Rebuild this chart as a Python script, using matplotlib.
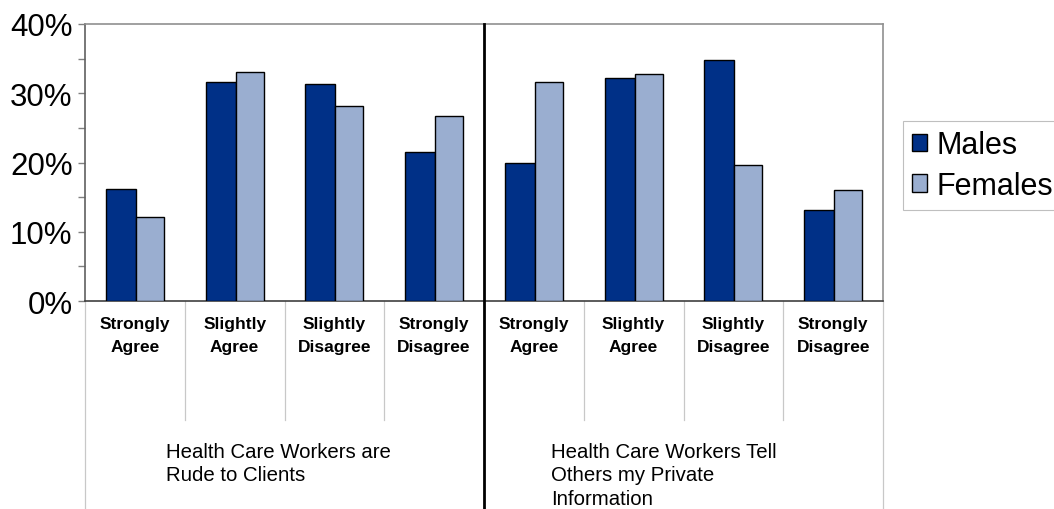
import numpy as np
import matplotlib.pyplot as plt
from matplotlib.transforms import blended_transform_factory
from matplotlib.patches import Patch

plt.rcParams['font.family'] = ['Liberation Sans', 'DejaVu Sans']

# Survey answers, two statements, four answer levels each
answers = ['Strongly\nAgree', 'Slightly\nAgree', 'Slightly\nDisagree', 'Strongly\nDisagree']
statements = ['Health Care Workers are\nRude to Clients',
              'Health Care Workers Tell\nOthers my Private\nInformation']

# Percent answering, statement 1 then statement 2
males = [16.2, 31.6, 31.4, 21.5, 20.0, 32.2, 34.8, 13.1]
females = [12.2, 33.1, 28.2, 26.7, 31.6, 32.8, 19.7, 16.0]

male_color = '#003087'
female_color = '#9aaed0'

fig = plt.figure(figsize=(10.54, 5.10), dpi=100)
ax = fig.add_axes([85/1054, 208/510, 798/1054, 277/510])

pos = np.arange(len(males))
ax.bar(pos + 0.21, males, width=0.30, align='edge', color=male_color,
       edgecolor='black', linewidth=1.0, zorder=3)
ax.bar(pos + 0.51, females, width=0.28, align='edge', color=female_color,
       edgecolor='black', linewidth=1.0, zorder=3)

ax.set_xlim(0, 8)
ax.set_ylim(0, 40)
ax.set_xticks([])
ax.set_yticks([0, 10, 20, 30, 40])
ax.set_yticklabels(['0%', '10%', '20%', '30%', '40%'], fontsize=22.5)
ax.set_yticks([5, 15, 25, 35], minor=True)
ax.tick_params(axis='y', which='both', length=5, width=1, color='#808080', pad=4)

for side in ['top', 'right']:
    ax.spines[side].set_color('#909090')
ax.spines['left'].set_color('#606060')
ax.spines['bottom'].set_color('#404040')
for s in ax.spines.values():
    s.set_linewidth(1.2)

trans = blended_transform_factory(ax.transData, ax.transAxes)

# category separators below the axis
for xs in [1, 2, 3, 5, 6, 7]:
    ax.plot([xs, xs], [0, -0.43], color='#c8c8c8', lw=0.9, transform=trans, clip_on=False)
for xs in [0, 8]:
    ax.plot([xs, xs], [0, -0.8], color='#c8c8c8', lw=0.9, transform=trans, clip_on=False)
# divider between the two statements
ax.plot([4, 4], [1, -0.8], color='black', lw=2, transform=trans, clip_on=False, zorder=5)

for i in range(len(males)):
    ax.text(i + 0.5, -0.123, answers[i % 4], transform=trans, ha='center', va='center',
            fontsize=12.5, fontweight='bold', linespacing=1.6)

ax.text(0.81, -0.508, statements[0], transform=trans, ha='left', va='top',
        fontsize=14.7, linespacing=1.3)
ax.text(4.67, -0.508, statements[1], transform=trans, ha='left', va='top',
        fontsize=14.7, linespacing=1.3)

handles = [Patch(facecolor=male_color, edgecolor='black', label='Males'),
           Patch(facecolor=female_color, edgecolor='black', label='Females')]
leg = fig.legend(handles=handles, loc='upper left', bbox_to_anchor=(903/1054, 1 - 122/510),
                 fontsize=22, frameon=True, fancybox=False, borderpad=0.3,
                 handlelength=0.5, handleheight=0.5, handletextpad=0.3,
                 labelspacing=0.35, borderaxespad=0)
leg.get_frame().set_edgecolor('#b0b0b0')
leg.get_frame().set_linewidth(0.8)

fig.savefig('out.png', dpi=100)
